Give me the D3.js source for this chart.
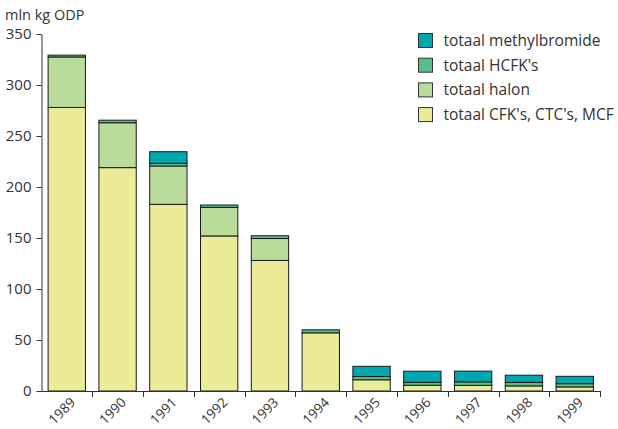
<!DOCTYPE html>
<html><head><meta charset="utf-8">
<script src="https://cdn.jsdelivr.net/npm/d3@7"></script>
<style>body{margin:0;background:#fff}svg text{font-family:"Open Sans","Noto Sans",sans-serif;fill:#333}</style>
</head><body><svg id="c" width="618" height="429"></svg>
<script>
const years = ["1989","1990","1991","1992","1993","1994","1995","1996","1997","1998","1999"];
const cfk    = [278, 219, 183, 152, 128, 57, 11, 5.6, 5.5, 5, 4];
const halon  = [49.5, 44, 37.6, 28, 21.5, 0, 0, 0, 0, 0, 0];
const hcfk   = [1.8, 2.5, 2.6, 2.3, 2.7, 3, 3.2, 3, 3.5, 3.5, 3.2];
const methyl = [0, 0, 11.4, 0, 0, 0, 10, 10.8, 10.5, 7, 7.2];
const seriesNames = ["totaal CFK's, CTC's, MCF","totaal halon","totaal HCFK's","totaal methylbromide"];
const seriesColors = ["#ecec98","#badc9b","#56be8b","#00a7ae"];
const yTicks = [0,50,100,150,200,250,300,350];

const svg = d3.select("#c");
const x = d3.scaleBand().domain(years).range([41.5, 600]).paddingInner(0.265).paddingOuter(0.13);
const y = d3.scaleLinear().domain([0,350]).range([391,34]);
const table = years.map((yr,i)=>({year:yr, s0:cfk[i], s1:halon[i], s2:hcfk[i], s3:methyl[i]}));
const stack = d3.stack().keys(["s0","s1","s2","s3"])(table);

svg.append("g").selectAll("g").data(stack).join("g")
  .attr("fill",(d,i)=>seriesColors[i])
  .selectAll("rect").data(d=>d.filter(p=>p[1]-p[0]>0)).join("rect")
  .attr("x",d=>x(d.data.year)).attr("width",x.bandwidth())
  .attr("y",d=>y(d[1])).attr("height",d=>y(d[0])-y(d[1]))
  .attr("stroke","#1a1a1a").attr("stroke-width",1);

// y axis
const ya = svg.append("g").attr("transform","translate(41.5,0)")
  .call(d3.axisLeft(y).tickValues(yTicks).tickSize(5).tickSizeOuter(0).tickPadding(5));
ya.select(".domain").attr("stroke","#333");
ya.selectAll("line").attr("stroke","#333");
ya.selectAll("text").style("font-size","15px").attr("fill","#333");

// x axis (ticks between bands)
const step = x.step();
const xa = svg.append("g");
xa.append("line").attr("x1",41.5).attr("x2",600).attr("y1",391.5).attr("y2",391.5).attr("stroke","#333");
const bounds = years.map((yr,i)=>x(yr) - x.paddingInner()*step/2 + step);
xa.selectAll("line.t").data(bounds).join("line").attr("class","t")
  .attr("x1",d=>Math.round(d)+0.5).attr("x2",d=>Math.round(d)+0.5).attr("y1",391).attr("y2",397).attr("stroke","#333");
xa.selectAll("text").data(years).join("text")
  .attr("transform",d=>`translate(${x(d)+x.bandwidth()/2+6},${400}) rotate(-45)`)
  .attr("text-anchor","end").attr("dy","0.35em")
  .style("font-size","13.5px").text(d=>d);

svg.append("text").attr("x",5).attr("y",20).style("font-size","14.5px").text("mln kg ODP");

// legend
const leg = svg.append("g");
const order = [3,2,1,0];
order.forEach((si,k)=>{
  const g = leg.append("g").attr("transform",`translate(418.5,${33.5+k*24.7})`);
  g.append("rect").attr("width",14).attr("height",14).attr("fill",seriesColors[si]).attr("stroke","#333");
  g.append("text").attr("x",25).attr("y",7).attr("dy","0.35em").style("font-size","15.5px").text(seriesNames[si]);
});
</script></body></html>
